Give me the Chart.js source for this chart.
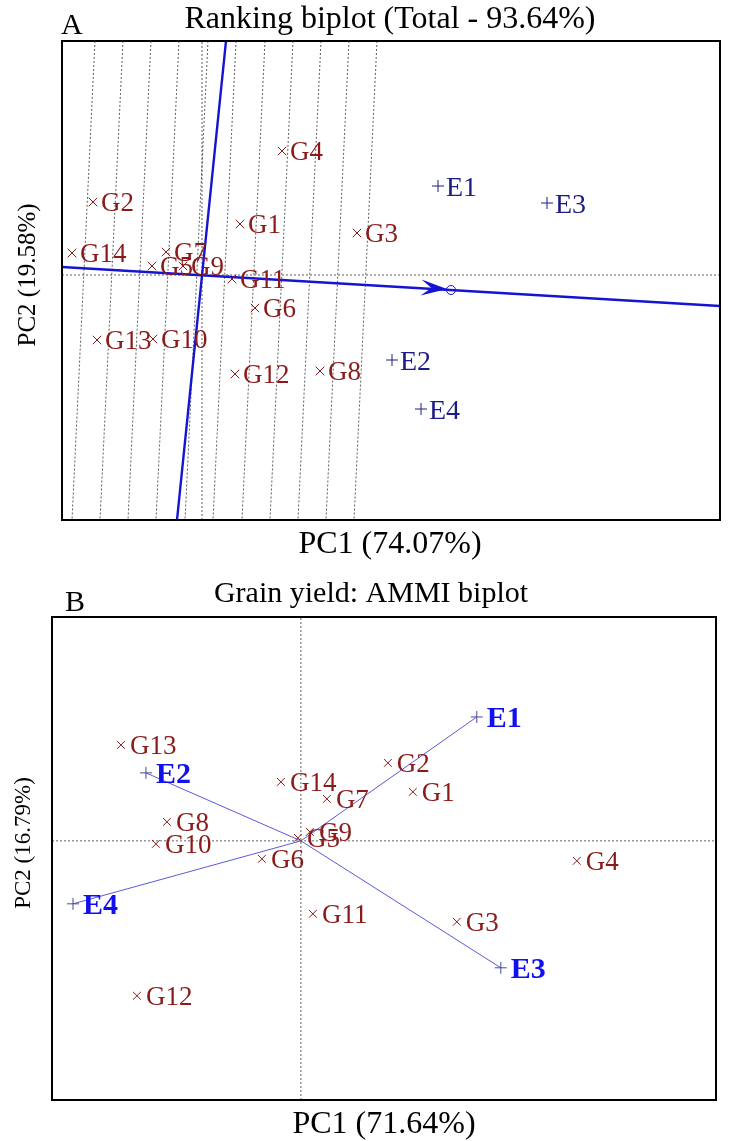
<!DOCTYPE html>
<html><head><meta charset="utf-8">
<script src="https://cdn.jsdelivr.net/npm/chart.js@4.4.1/dist/chart.umd.min.js"></script>
<style>
html,body{margin:0;padding:0;background:#fff;}
#wrap{width:730px;height:1141px;position:relative;background:#fff;}
canvas{display:block;}
</style></head>
<body><div id="wrap"><canvas id="cA" width="730" height="570"></canvas><canvas id="cB" width="730" height="571"></canvas></div>
<script>
// ---------- shared names ----------
const genotypes = ['G1','G2','G3','G4','G5','G6','G7','G8','G9','G10','G11','G12','G13','G14'];
const environments = ['E1','E2','E3','E4'];

// ---------- Panel A : ranking biplot ----------
const titleA = 'Ranking biplot (Total - 93.64%)';
const xTitleA = 'PC1 (74.07%)';
const yTitleA = 'PC2 (19.58%)';
const gA_pc1 = [0.76, -2.18, 3.10, 1.60, -1.00, 1.06, -0.72, 2.36, -0.38, -0.98, 0.60, 0.66, -2.10, -2.60];
const gA_pc2 = [1.02, 1.46, 0.84, 2.48, 0.18, -0.66, 0.46, -1.92, 0.18, -1.28, -0.08, -1.98, -1.30, 0.44];
const eA_pc1 = [4.72, 3.80, 6.90, 4.38];
const eA_pc2 = [1.78, -1.70, 1.44, -2.68];
const atcAbscissaX = [-2.80, 10.36];
const atcAbscissaY = [0.16, -0.62];
const atcOrdinateX = [0.48, -0.50];
const atcOrdinateY = [4.68, -4.90];
const meanEnvA = [4.98, -0.30];
const arrowTipA = [4.90, -0.28];
const rankLineTopX = [-2.14, -1.58, -1.02, -0.46, 0.12, 0.68, 1.26, 1.82, 2.38, 2.94, 3.50];
const rankLineBotX = [-2.60, -2.04, -1.48, -0.92, -0.34, 0.22, 0.80, 1.36, 1.92, 2.48, 3.04];
const rangeAx = [-2.80, 10.36];
const rangeAy = [-4.90, 4.68];

// ---------- Panel B : AMMI biplot ----------
const titleB = 'Grain yield: AMMI biplot';
const xTitleB = 'PC1 (71.64%)';
const yTitleB = 'PC2 (16.79%)';
const gB_pc1 = [1.12, 0.87, 1.56, 2.76, -0.03, -0.39, 0.26, -1.34, 0.09, -1.45, 0.12, -1.64, -1.80, -0.20];
const gB_pc2 = [0.49, 0.78, -0.81, -0.20, 0.03, -0.18, 0.42, 0.19, 0.09, -0.03, -0.73, -1.55, 0.96, 0.59];
const eB_pc1 = [1.76, -1.55, 2.00, -2.28];
const eB_pc2 = [1.24, 0.68, -1.27, -0.63];
const rangeBx = [-2.49, 4.153];
const rangeBy = [-2.593, 2.24];

// ---------- styles ----------
const SERIF = '"Liberation Serif","Times New Roman",serif';
const RED = '#8b1a1a';
const NAVY = '#1c1c82';
const BLUE = '#1414d2';

function stext(ctx, str, x, y, size, color, align, weight) {
  ctx.save();
  ctx.font = (weight || 'normal') + ' ' + size + 'px ' + SERIF;
  ctx.fillStyle = color;
  ctx.textBaseline = 'alphabetic';
  ctx.textAlign = align || 'left';
  ctx.fillText(str, x, y);
  ctx.restore();
}
function vtext(ctx, str, cx, cy, size, color) {
  ctx.save();
  ctx.font = size + 'px ' + SERIF;
  ctx.fillStyle = color;
  ctx.textBaseline = 'alphabetic';
  ctx.textAlign = 'center';
  ctx.translate(cx + 0.33 * size, cy);
  ctx.rotate(-Math.PI / 2);
  ctx.fillText(str, 0, 0);
  ctx.restore();
}

const pts = (xs, ys) => xs.map((x, i) => ({x: x, y: ys[i]}));

function seg(data, color, width, dash, order) {
  return {type: 'scatter', data: data, showLine: true, borderColor: color, borderWidth: width,
          borderDash: dash || [], pointRadius: 0, fill: false, order: order, tension: 0};
}

const labelPlugin = {
  id: 'pointLabels',
  afterDatasetsDraw(chart) {
    const ctx = chart.ctx;
    chart.data.datasets.forEach((ds, di) => {
      if (!ds.labelText) return;
      const meta = chart.getDatasetMeta(di);
      meta.data.forEach((el, i) => {
        stext(ctx, ds.labelText[i], el.x + ds.labelDx, el.y + 0.34 * ds.labelSize,
              ds.labelSize, ds.labelColor, 'left', ds.labelWeight);
      });
    });
  }
};

const framePlugin = {
  id: 'frame',
  afterDraw(chart) {
    const a = chart.chartArea, ctx = chart.ctx, o = chart.options.plugins.frame;
    ctx.save();
    ctx.strokeStyle = '#000';
    ctx.lineWidth = 2;
    ctx.strokeRect(a.left, a.top, a.right - a.left, a.bottom - a.top);
    ctx.restore();
    const T = o.texts;
    stext(ctx, T.letter, T.letterX, T.letterY, 30, '#000', 'left');
    stext(ctx, T.title, T.titleX, T.titleY, T.titleSize, '#000', 'center');
    stext(ctx, T.xTitle, T.xTitleX, T.xTitleY, T.xTitleSize, '#000', 'center');
    vtext(ctx, T.yTitle, T.yTitleX, T.yTitleY, T.yTitleSize, '#000');
  }
};

const arrowPlugin = {
  id: 'atcArrow',
  afterDatasetsDraw(chart) {
    const o = chart.options.plugins.atcArrow;
    if (!o || !o.enabled) return;
    const xs = chart.scales.x, ys = chart.scales.y, ctx = chart.ctx;
    const p0 = {x: xs.getPixelForValue(atcAbscissaX[0]), y: ys.getPixelForValue(atcAbscissaY[0])};
    const p1 = {x: xs.getPixelForValue(atcAbscissaX[1]), y: ys.getPixelForValue(atcAbscissaY[1])};
    const len = Math.hypot(p1.x - p0.x, p1.y - p0.y);
    const d = {x: (p1.x - p0.x) / len, y: (p1.y - p0.y) / len};
    const n = {x: -d.y, y: d.x};
    const t = {x: xs.getPixelForValue(arrowTipA[0]), y: ys.getPixelForValue(arrowTipA[1])};
    const L = 26, W = 8;
    ctx.save();
    ctx.fillStyle = BLUE;
    ctx.beginPath();
    ctx.moveTo(t.x, t.y);
    ctx.lineTo(t.x - L * d.x + W * n.x, t.y - L * d.y + W * n.y);
    ctx.lineTo(t.x - 0.6 * L * d.x, t.y - 0.6 * L * d.y);
    ctx.lineTo(t.x - L * d.x - W * n.x, t.y - L * d.y - W * n.y);
    ctx.closePath();
    ctx.fill();
    const c = {x: xs.getPixelForValue(meanEnvA[0]), y: ys.getPixelForValue(meanEnvA[1])};
    ctx.strokeStyle = BLUE;
    ctx.lineWidth = 1;
    ctx.beginPath();
    ctx.arc(c.x, c.y, 4.5, 0, Math.PI * 2);
    ctx.stroke();
    ctx.restore();
  }
};

function baseOptions(pad, rx, ry, texts, arrow) {
  return {
    responsive: false, animation: false, devicePixelRatio: 1, events: [],
    layout: {padding: pad},
    plugins: {legend: {display: false}, tooltip: {enabled: false}, title: {display: false},
              frame: {texts: texts}, atcArrow: {enabled: arrow}},
    scales: {
      x: {type: 'linear', min: rx[0], max: rx[1], display: false},
      y: {type: 'linear', min: ry[0], max: ry[1], display: false}
    }
  };
}

// ---------- Chart A ----------
const dsA = [];
dsA.push({type: 'scatter', data: pts(gA_pc1, gA_pc2), pointStyle: 'crossRot', pointRadius: 6,
  borderColor: RED, backgroundColor: RED, pointBorderWidth: 1, order: 0,
  labelText: genotypes, labelDx: 8, labelSize: 27, labelColor: RED});
dsA.push({type: 'scatter', data: pts(eA_pc1, eA_pc2), pointStyle: 'cross', pointRadius: 6,
  borderColor: NAVY, backgroundColor: NAVY, pointBorderWidth: 1, order: 0,
  labelText: environments, labelDx: 8, labelSize: 28, labelColor: NAVY});
dsA.push(seg(pts(atcAbscissaX, atcAbscissaY), BLUE, 2.4, [], 1));
dsA.push(seg(pts(atcOrdinateX, atcOrdinateY), BLUE, 2.4, [], 1));
dsA.push(seg([{x: rangeAx[0], y: 0}, {x: rangeAx[1], y: 0}], '#333', 0.8, [2, 2], 2));
dsA.push(seg([{x: 0, y: rangeAy[0]}, {x: 0, y: rangeAy[1]}], '#333', 0.8, [2, 2], 2));
rankLineTopX.forEach((tx, i) => {
  dsA.push(seg([{x: tx, y: rangeAy[1]}, {x: rankLineBotX[i], y: rangeAy[0]}], '#333', 0.8, [2, 2], 2));
});

new Chart(document.getElementById('cA'), {
  type: 'scatter',
  data: {datasets: dsA},
  options: baseOptions({left: 62, top: 41, right: 10, bottom: 50}, rangeAx, rangeAy,
    {letter: 'A', letterX: 61, letterY: 34, title: titleA, titleX: 390, titleY: 28, titleSize: 32,
     xTitle: xTitleA, xTitleX: 390, xTitleY: 553, xTitleSize: 32,
     yTitle: yTitleA, yTitleX: 27, yTitleY: 275, yTitleSize: 25}, true),
  plugins: [labelPlugin, framePlugin, arrowPlugin]
});

// ---------- Chart B ----------
const dsB = [];
dsB.push({type: 'scatter', data: pts(gB_pc1, gB_pc2), pointStyle: 'crossRot', pointRadius: 5.5,
  borderColor: RED, backgroundColor: RED, pointBorderWidth: 1, order: 0,
  labelText: genotypes, labelDx: 9, labelSize: 27, labelColor: RED});
dsB.push({type: 'scatter', data: pts(eB_pc1, eB_pc2), pointStyle: 'cross', pointRadius: 6,
  borderColor: '#4a4a96', backgroundColor: '#4a4a96', pointBorderWidth: 1, order: 0,
  labelText: environments, labelDx: 10, labelSize: 30, labelColor: '#1010f0', labelWeight: 'bold'});
eB_pc1.forEach((x, i) => {
  dsB.push(seg([{x: 0, y: 0}, {x: x, y: eB_pc2[i]}], '#5a5ad8', 1, [], 1));
});
dsB.push(seg([{x: rangeBx[0], y: 0}, {x: rangeBx[1], y: 0}], '#555', 0.9, [2, 2], 2));
dsB.push(seg([{x: 0, y: rangeBy[0]}, {x: 0, y: rangeBy[1]}], '#555', 0.9, [2, 2], 2));

new Chart(document.getElementById('cB'), {
  type: 'scatter',
  data: {datasets: dsB},
  options: baseOptions({left: 52, top: 47, right: 14, bottom: 41}, rangeBx, rangeBy,
    {letter: 'B', letterX: 65, letterY: 41, title: titleB, titleX: 371, titleY: 32, titleSize: 30,
     xTitle: xTitleB, xTitleX: 384, xTitleY: 563, xTitleSize: 32,
     yTitle: yTitleB, yTitleX: 22, yTitleY: 273, yTitleSize: 23}, false),
  plugins: [labelPlugin, framePlugin, arrowPlugin]
});
</script>
</body></html>
